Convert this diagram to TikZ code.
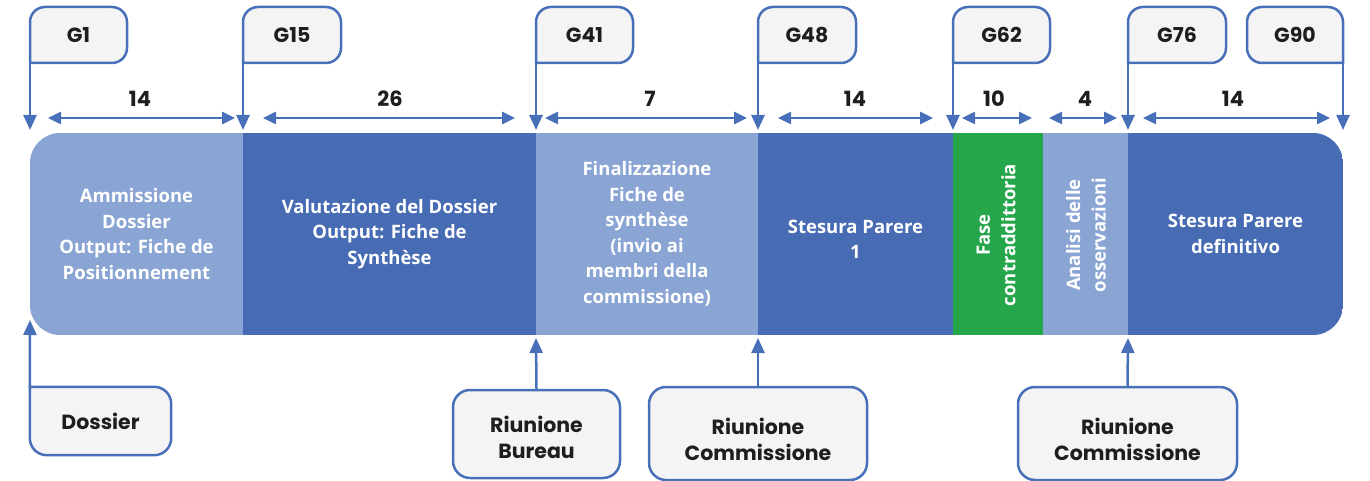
\documentclass[tikz,border=0pt]{standalone}
\usepackage{fontspec}
\setmainfont{Open Sans}
\newfontfamily\lblfont{Poppins}
\newfontfamily\barfont{Open Sans}
\usetikzlibrary{arrows.meta,backgrounds}
\definecolor{lightseg}{RGB}{138,165,212}
\definecolor{darkseg}{RGB}{71,108,180}
\definecolor{greenseg}{RGB}{38,166,74}
\definecolor{edge}{RGB}{72,112,185}
\definecolor{boxfill}{RGB}{244,244,244}
\definecolor{ink}{RGB}{30,30,30}
\tikzset{
 arr/.style={draw=edge, line width=2.5pt, -{Triangle[length=15pt,width=13pt]}},
 dim/.style={draw=edge, line width=2.5pt, {Triangle[length=13pt,width=12pt]}-{Triangle[length=13pt,width=12pt]}},
 flagtxt/.style={font=\lblfont\bfseries\fontsize{20.5}{24}\selectfont, text=ink, inner sep=0pt, outer sep=0pt, minimum height=56pt},
 flagedge/.style={draw=edge, line width=2.5pt, fill=boxfill},
 num/.style={font=\lblfont\bfseries\fontsize{21}{24}\selectfont, text=ink, inner sep=0pt},
 seg/.style={inner sep=0pt, outer sep=0pt, minimum height=202pt, text=white, align=center, font=\barfont\bfseries\fontsize{18.5}{25.5}\selectfont},
 segtxt/.style={inner sep=0pt, text=white, align=center, font=\barfont\bfseries\fontsize{18.5}{25.5}\selectfont},
 callout/.style={draw=edge, line width=2.5pt, fill=boxfill, rounded corners=17pt, inner sep=0pt},
 callouttxt/.style={inner sep=0pt, align=center, font=\lblfont\bfseries\fontsize{20.5}{26}\selectfont, text=ink},
}
\newcommand\flagleft[4]{%
 \node[flagtxt, minimum width=#3pt] (#1) at (#2,35) {#4};
 \begin{scope}[on background layer]
 \draw[flagedge] (#1.west) [rounded corners=15pt] -- (#1.north west) -- (#1.north east) -- (#1.south east) -- ([xshift=20pt]#1.south west) [sharp corners] -- (#1.south west) -- cycle;
 \end{scope}}
\begin{document}
\begin{tikzpicture}[x=1pt,y=-1pt]
\useasboundingbox (0,0) rectangle (1370,481);
% bar
\begin{scope}
\clip[rounded corners=30pt] (30,133) rectangle (1343,335);
\node[seg, fill=lightseg, minimum width=213pt] (s1) at (136.5,234) {Ammissione\\Dossier\\Output: Fiche de\\Positionnement};
\node[seg, fill=darkseg, minimum width=293pt] (s2) at (389.5,234) {Valutazione del Dossier\\Output: Fiche de\\Synthèse};
\node[seg, fill=lightseg, minimum width=222pt] (s3) at (647,234) {Finalizzazione\\Fiche de\\synthèse\\(invio ai\\membri della\\commissione)};
\node[seg, fill=darkseg, minimum width=195pt] (s4) at (855.5,234) {};
\node[seg, fill=greenseg, minimum width=90pt] (s5) at (998,234) {};
\node[seg, fill=lightseg, minimum width=85pt] (s6) at (1085.5,234) {};
\node[seg, fill=darkseg, minimum width=215pt] (s7) at (1235.5,234) {Stesura Parere\\definitivo};
\end{scope}
\node[segtxt] (t4) at ([yshift=-5.5pt]s4.center) {Stesura Parere\\1};
\node[segtxt, rotate=90] (t5) at (996,235) {Fase\\contraddittoria};
\node[segtxt, rotate=90] (t6) at (1086,235) {Analisi delle\\osservazioni};
% flags
\flagleft{g1}{78.5}{97}{G1}
\flagleft{g15}{292}{98}{G15}
\flagleft{g41}{584.5}{97}{G41}
\flagleft{g48}{807}{98}{G48}
\flagleft{g62}{1001.5}{97}{G62}
\flagleft{g76}{1177}{98}{G76}
\node[flagtxt, minimum width=96pt] (g90) at (1295,35) {G90};
\begin{scope}[on background layer]
\draw[flagedge] (g90.east) [rounded corners=15pt] -- (g90.north east) -- (g90.north west) -- (g90.south west) -- ([xshift=-20pt]g90.south east) [sharp corners] -- (g90.south east) -- cycle;
\end{scope}
\draw[arr] (g1.south west) -- ([yshift=3pt]s1.north west);
\draw[arr] (g15.south west) -- ([yshift=3pt]s2.north west);
\draw[arr] (g41.south west) -- ([yshift=3pt]s3.north west);
\draw[arr] (g48.south west) -- ([yshift=3pt]s4.north west);
\draw[arr] (g62.south west) -- ([yshift=3pt]s5.north west);
\draw[arr] (g76.south west) -- ([yshift=3pt]s7.north west);
\draw[arr] (g90.south east) -- ([yshift=3pt]s7.north east);
% durations
\node[num] (n1) at (140,98.5) {14};
\node[num] (n2) at (390,98.5) {26};
\node[num] (n3) at (650,98.5) {7};
\node[num] (n4) at (855,98.5) {14};
\node[num] (n5) at (994,98.5) {10};
\node[num] (n6) at (1085,98.5) {4};
\node[num] (n7) at (1233,98.5) {14};
\draw[dim] (48,118) -- (235,118);
\draw[dim] (263,118) -- (515,118);
\draw[dim] (545,118) -- (747,118);
\draw[dim] (778,118) -- (933,118);
\draw[dim] (962,118) -- (1032,118);
\draw[dim] (1049,118) -- (1117,118);
\draw[dim] (1143,118) -- (1330,118);
% bottom callouts
\node[callouttxt, minimum width=141pt, minimum height=68pt] (dos) at (100.5,421) {Dossier};
\begin{scope}[on background layer]
\draw[flagedge] (dos.west) [rounded corners=17pt] -- (dos.south west) -- (dos.south east) -- (dos.north east) -- ([xshift=20pt]dos.north west) [sharp corners] -- (dos.north west) -- cycle;
\end{scope}
\node[callout, minimum width=167pt, minimum height=88pt] (bur) at (536.5,434) {};
\node[callout, minimum width=218pt, minimum height=93pt] (com1) at (758,433.5) {};
\node[callout, minimum width=219pt, minimum height=93pt] (com2) at (1127.5,433.5) {};
\node[callouttxt] (bur-t) at ([yshift=-3.5pt]bur.center) {Riunione\\Bureau};
\node[callouttxt] (com1-t) at ([yshift=-5.5pt]com1.center) {Riunione\\Commissione};
\node[callouttxt] (com2-t) at ([yshift=-5.5pt]com2.center) {Riunione\\Commissione};
\draw[arr] (dos.north west) -- ([yshift=15pt]s1.south west);
\draw[arr] (bur.north) -- ([yshift=-3pt]s3.south west);
\draw[arr] (com1.north) -- ([yshift=-3pt]s4.south west);
\draw[arr] (com2.north) -- ([yshift=-3pt]s7.south west);
\end{tikzpicture}
\end{document}
